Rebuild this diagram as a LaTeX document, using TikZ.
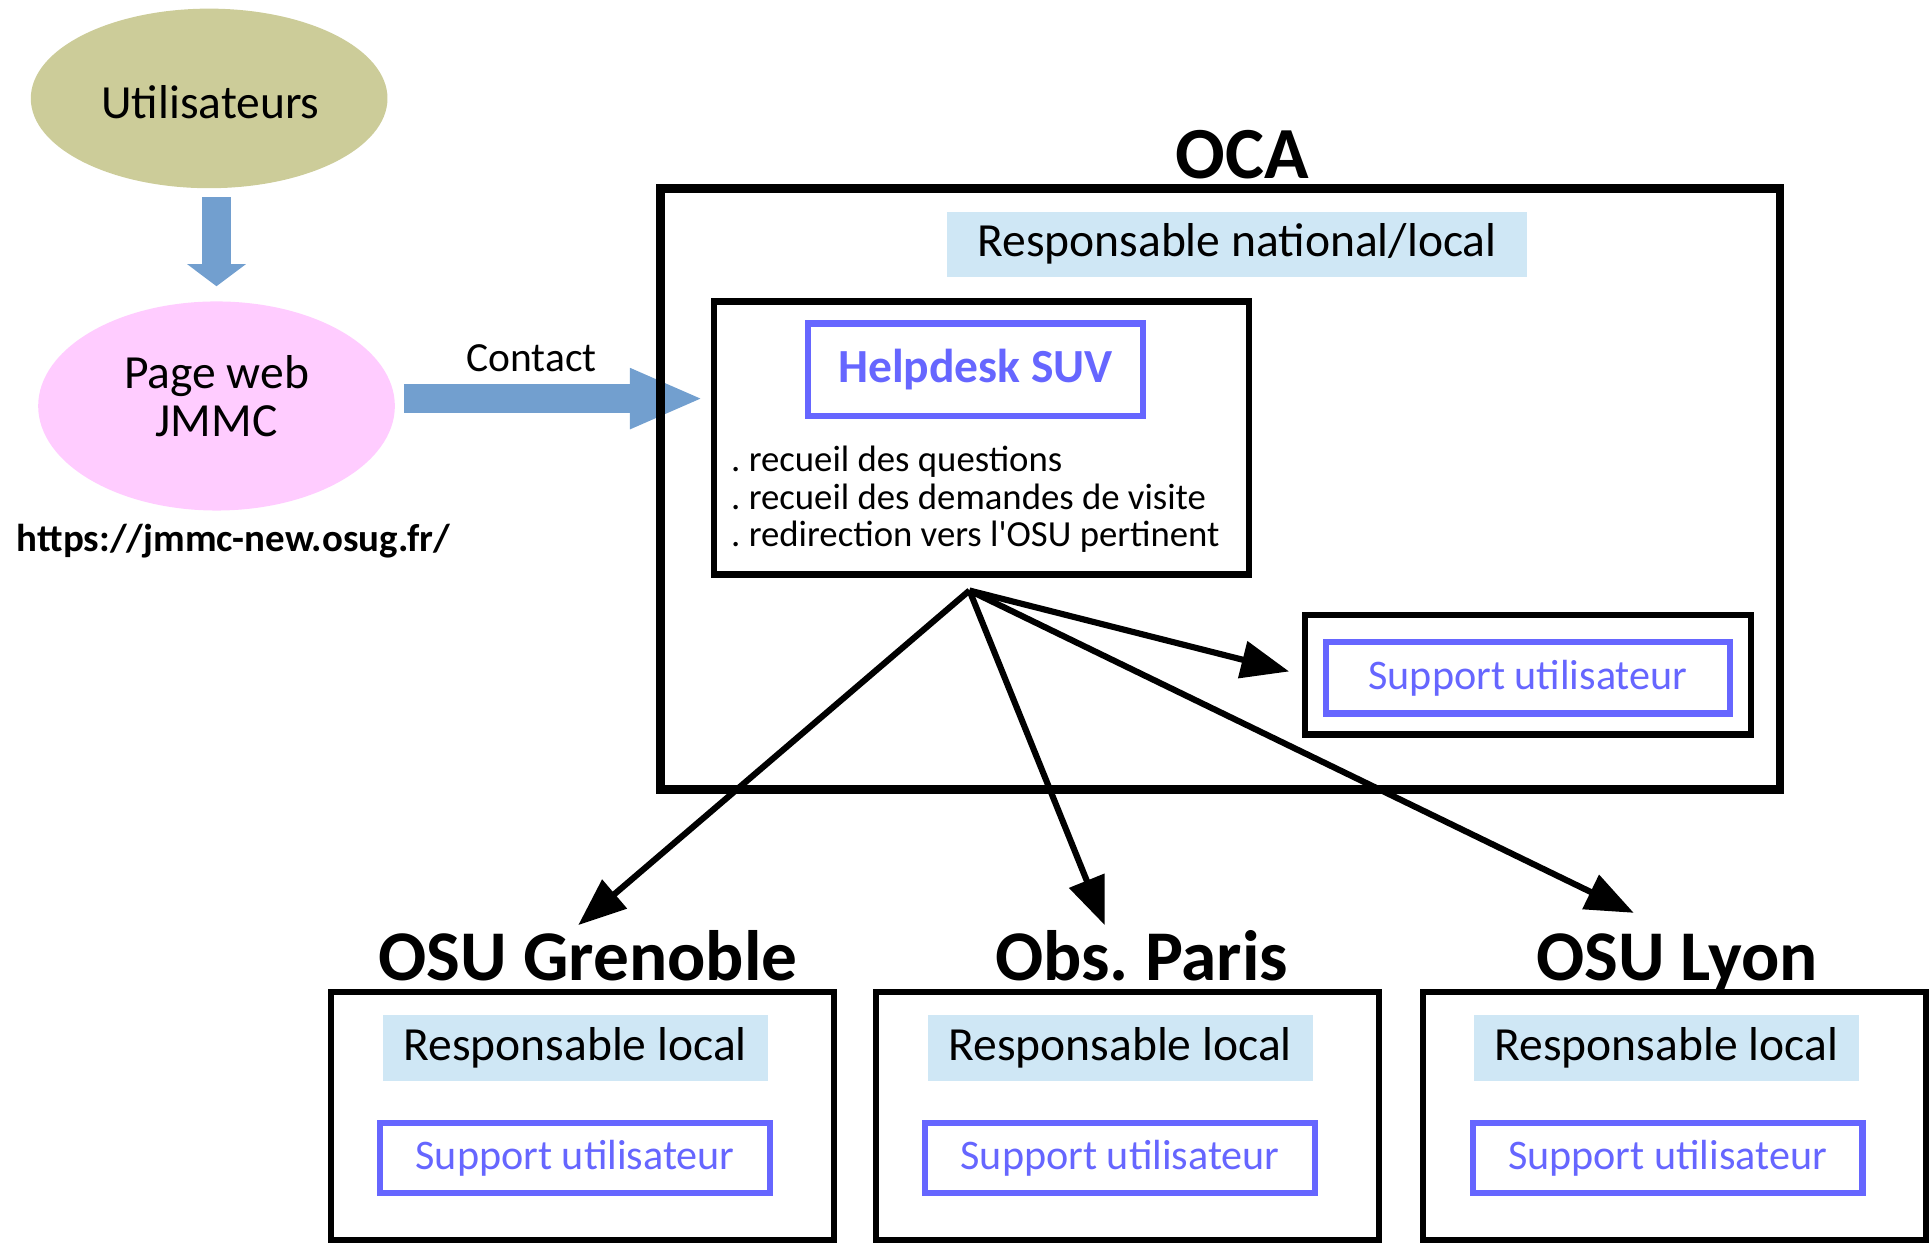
\documentclass[tikz,border=0pt]{standalone}
\usepackage{fontspec}
\setmainfont{Carlito}
\usepackage{tikz}
\usetikzlibrary{arrows.meta}
\usetikzlibrary{shapes.geometric}
\tikzset{>={Triangle[length=0.78cm,width=0.6cm]}}

\definecolor{usercol}{RGB}{204,204,153}
\definecolor{webcol}{RGB}{255,204,255}
\definecolor{respcol}{RGB}{207,231,245}
\definecolor{suvblue}{RGB}{102,102,255}
\definecolor{fatcol}{RGB}{114,159,207}

\newcommand\mainfs{\fontsize{22}{22.5}\selectfont}
\newcommand\supfs{\fontsize{19.5}{22}\selectfont}
\newcommand\listfs{\fontsize{17}{17.4}\selectfont}
\newcommand\titlefs{\fontsize{33}{36}\selectfont\bfseries}
\frenchspacing

\tikzset{
    bigbox/.style={draw, line width=0.14cm},
    box/.style={draw, line width=0.1cm},
    respbox/.style={fill=respcol, font=\mainfs},
    bluebox/.style={draw=suvblue, line width=0.1cm, text=suvblue},
    supbox/.style={bluebox, font=\supfs},
    sitebox/.style={box, minimum width=8.18cm, minimum height=4.04cm},
    localresp/.style={respbox, minimum width=6.26cm, minimum height=1.08cm},
    localsup/.style={supbox, minimum width=6.34cm, minimum height=1.14cm},
    fatarrow/.style={line width=0.48cm, fatcol},
    link/.style={line width=0.1cm, ->},
}

\begin{document}
\begin{tikzpicture}[x=0.02cm, y=-0.02cm]
    \useasboundingbox (0,0) rectangle (1568,1014);
    % users and web page
    \node[ellipse, fill=usercol, minimum width=5.8cm, minimum height=2.92cm](users) at (170,80){};
    \node[font=\mainfs](userstxt) at (171,83){Utilisateurs};
    \node[ellipse, fill=webcol, minimum width=5.8cm, minimum height=3.4cm](web) at (176,330){};
    \node[align=center, font=\mainfs](webtxt) at (176,322){Page web\\JMMC};
    \node[font=\fontsize{18}{20}\selectfont\bfseries](url) at (190,440){https://jmmc-new.osug.fr/};
    \draw[fatarrow, -{Triangle[length=0.36cm,width=0.94cm]}, shorten <=0.14cm, shorten >=0.24cm](users.south -| web)--(web.north);
    \coordinate (deskin) at (572,324);
    \draw[fatarrow, -{Triangle[length=1.2cm,width=0.9cm]}, shorten <=0.14cm](web.east |- deskin)--(deskin);
    \node[font=\fontsize{19.2}{21}\selectfont](contact) at (432,291){Contact};

    % OCA
    \node[bigbox, minimum width=18.2cm, minimum height=9.78cm](oca) at (992,397.5){};
    \node[anchor=base, font=\fontsize{34}{36}\selectfont\bfseries](ocaT) at (1010,145){OCA};
    \node[respbox, minimum width=9.42cm, minimum height=1.06cm](ocaResp) at (1005.5,198.5){Responsable national/local};
    \node[box, minimum width=8.7cm, minimum height=4.44cm](desk) at (797.5,356){};
    \node[bluebox, minimum width=5.44cm, minimum height=1.5cm, font=\fontsize{22}{24}\selectfont\bfseries](suv) at (793,300.5){Helpdesk SUV};
    \node[anchor=west, align=left, inner sep=0, font=\listfs](tasks) at (594,406){. recueil des questions\\. recueil des demandes de visite\\. redirection vers l\textquotesingle OSU pertinent};
    \node[box, minimum width=7.24cm, minimum height=1.94cm](ocaSup) at (1242,548.5){};
    \node[supbox, minimum width=6.56cm, minimum height=1.16cm](ocaSupIn) at (1242,551){Support utilisateur};

    % sites
    \node[anchor=base, font=\titlefs](grenT) at (478,797){OSU Grenoble};
    \node[sitebox](gren) at (473.5,907){};
    \node[localresp](grenResp) at (467.5,852){Responsable local};
    \node[localsup](grenSup) at (467.5,941.5){Support utilisateur};

    \node[anchor=base, font=\titlefs](parisT) at (928,797){Obs. Paris};
    \node[sitebox](paris) at (916.5,907){};
    \node[localresp](parisResp) at (910.5,852){Responsable local};
    \node[localsup](parisSup) at (910.5,941.5){Support utilisateur};

    \node[anchor=base, font=\titlefs](lyonT) at (1363,797){OSU Lyon};
    \node[sitebox](lyon) at (1361,907){};
    \node[localresp](lyonResp) at (1354.5,852){Responsable local};
    \node[localsup](lyonSup) at (1355.5,941.5){Support utilisateur};

    % redirections
    \coordinate (fork) at (788,480);
    \coordinate (toGren) at (470,752);
    \coordinate (toParis) at (898,752);
    \coordinate (toLyon) at (1328,742);
    \draw[link, shorten >=0.22cm](fork)--(ocaSup.west);
    \draw[link](fork)--(toGren);
    \draw[link](fork)--(toParis);
    \draw[link](fork)--(toLyon);
\end{tikzpicture}
\end{document}
